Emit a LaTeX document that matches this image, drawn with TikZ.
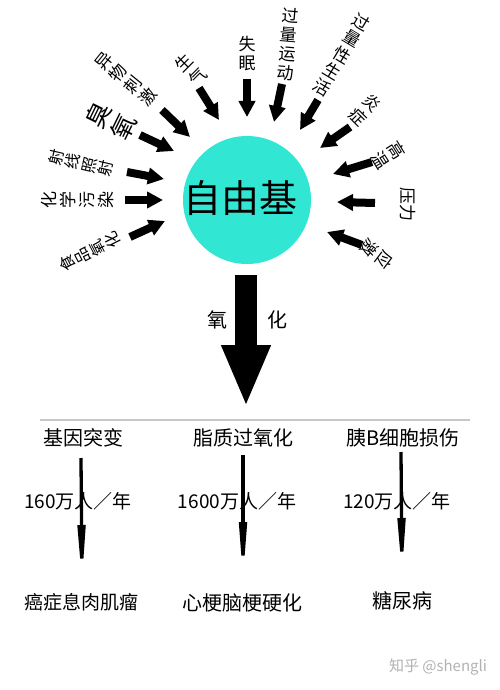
\documentclass[tikz,border=0pt]{standalone}
\usepackage{fontspec}
\setmainfont{Noto Sans CJK SC}
\usetikzlibrary{arrows.meta}
\definecolor{cyanball}{RGB}{50,230,212}
\begin{document}
\begin{tikzpicture}[x=1pt,y=-1pt,
  lbl/.style={font=\fontsize{17}{19}\selectfont, align=center, inner sep=0pt},
  lbls/.style={font=\fontsize{16}{17}\selectfont, align=center, inner sep=0pt},
  blk/.style={line width=8pt, -{Triangle[length=16pt,width=16pt]}},
  hd/.style={font=\fontsize{20}{22}\selectfont, inner sep=0pt},
  md/.style={font=\fontsize{19}{21}\selectfont, inner sep=0pt},
  sarr/.style={line width=3.3pt, -{Triangle[length=60pt,width=7.5pt]}},
  bigarr/.style={line width=22pt, -{Triangle[length=62pt,width=45pt]}}]
\useasboundingbox (0,0) rectangle (500,690);
\fill[white] (0,0) rectangle (500,690);

% central ball
\node[circle, fill=cyanball, minimum size=128pt, inner sep=0pt] (ball) at (247,200) {};
\node[font=\fontsize{38}{42}\selectfont, inner sep=0pt] (zyj) at (240,198) {自由基};

% labels
\node[lbls, rotate=117] (l1) at (90,252) {食\\品\\氧\\化};
\node[lbl, rotate=90] (l2) at (78,200) {化\\学\\污\\染};
\node[lbls, rotate=77] (l3) at (81,163) {射\\线\\照\\射};
\node[font=\fontsize{25}{28}\selectfont, align=center, inner sep=0pt, rotate=64] (l4) at (111,121) {臭\\氧};
\node[lbl, rotate=51] (l5) at (126,79) {异\\物\\刺\\激};
\node[lbl, rotate=45] (l6) at (191,70) {生\\气};
\node[lbl] (l7) at (247,54) {失\\眠};
\node[lbl, rotate=-5] (l8) at (288,44) {过\\量\\运\\动};
\node[lbl, rotate=-31] (l9) at (342,55) {过\\量\\性\\生\\活};
\node[lbl, rotate=-45] (l10) at (365,110) {炎\\症};
\node[lbl, rotate=-58] (l11) at (389,155) {高\\温};
\node[lbl, rotate=-90] (l12) at (408,204) {压力};
\node[lbl, rotate=-127] (l13) at (377,254) {应\\激};

% arrow coordinates
\coordinate (a1s) at (130,237);  \coordinate (a1e) at (165,221);
\coordinate (a2s) at (125,200);  \coordinate (a2e) at (163,200);
\coordinate (a3s) at (127,172);  \coordinate (a3e) at (164,179);
\coordinate (a4s) at (140,135);  \coordinate (a4e) at (174,151);
\coordinate (a5s) at (162,110);  \coordinate (a5e) at (190,137);
\coordinate (a6s) at (199,88);   \coordinate (a6e) at (219,120);
\coordinate (a7s) at (247,79);   \coordinate (a7e) at (247,117);
\coordinate (a8s) at (282,84);   \coordinate (a8e) at (274,122);
\coordinate (a9s) at (318,100);  \coordinate (a9e) at (300,130);
\coordinate (a10s) at (350,127); \coordinate (a10e) at (320,148);
\coordinate (a11s) at (372,162); \coordinate (a11e) at (333,174);
\coordinate (a12s) at (375,203); \coordinate (a12e) at (337,202);
\coordinate (a13s) at (362,245); \coordinate (a13e) at (327,232);
\foreach \i in {1,...,13} { \draw[blk] (a\i s) -- (a\i e); }

% big arrow
\coordinate (bs) at (246,275); \coordinate (be) at (246,407);
\draw[bigarr] (bs) -- (be);
\node[hd] (ox1) at (217,320) {氧};
\node[hd] (ox2) at (277,320) {化};

% separator
\coordinate (gl) at (40,420); \coordinate (gr) at (470,420);
\draw[black!22, line width=1.5pt] (gl) -- (gr);

% columns
\node[hd] (h1) at (83,438) {基因突变};
\node[hd] (h2) at (243,438) {脂质过氧化};
\node[hd] (h3) at (403,438) {胰B细胞损伤};

\node[md] (m1) at (78,501) {160万人／年};
\node[md] (m2) at (237,501) {1600万人／年};
\node[md] (m3) at (397,501) {120万人／年};

\node[font=\fontsize{19}{21}\selectfont, inner sep=0pt] (b1) at (81,602) {癌症息肉肌瘤};
\node[hd] (b2) at (242,603) {心梗脑梗硬化};
\node[hd] (b3) at (402,601) {糖尿病};

\coordinate (c1s) at (81,458);  \coordinate (c1e) at (82,585);
\coordinate (c2s) at (243,455); \coordinate (c2e) at (243,582);
\coordinate (c3s) at (401,452); \coordinate (c3e) at (402,578);
\draw[sarr] (c1s) -- (c1e);
\draw[sarr] (c2s) -- (c2e);
\draw[sarr] (c3s) -- (c3e);

% watermark
\node[font=\fontsize{15}{16}\selectfont, text=black!30, inner sep=0pt] (wm) at (438,667) {知乎 @shengli};
\end{tikzpicture}
\end{document}
